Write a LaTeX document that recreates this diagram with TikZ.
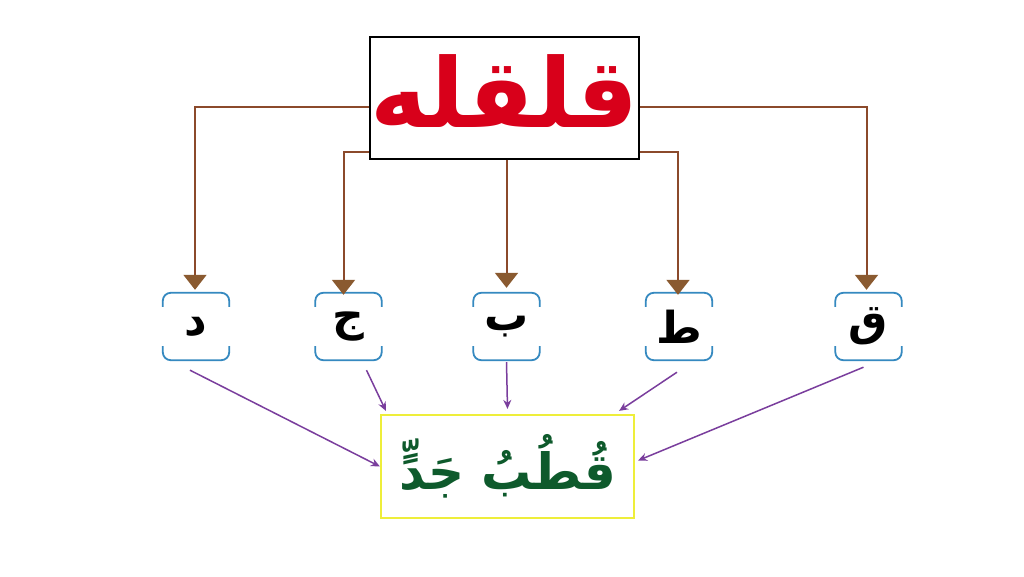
\documentclass[tikz,border=0pt]{standalone}
\usepackage{fontspec}
\newfontfamily\arabicfont[Script=Arabic]{DejaVu Sans}
\TeXXeTstate=1
\usetikzlibrary{arrows.meta}
\definecolor{brn}{HTML}{8B4A2B}
\definecolor{brnfill}{HTML}{8A5A30}
\definecolor{qred}{HTML}{D8001A}
\definecolor{qgreen}{HTML}{0E5A2C}
\definecolor{qblue}{HTML}{3589C0}
\definecolor{qpurple}{HTML}{7A3E9D}
\definecolor{qyellow}{HTML}{EEEE3A}
\tikzset{
  titlebox/.style={draw=black, line width=1.5pt, minimum width=269pt, minimum height=122pt, inner sep=0pt, fill=white},
  letterbox/.style={minimum width=66pt, minimum height=67pt, inner sep=0pt, font=\arabicfont\bfseries\fontsize{44}{48}\selectfont},
  bracket/.style={draw=qblue, line width=1.8pt, rounded corners=8pt},
  resultbox/.style={draw=qyellow, line width=2.2pt, minimum width=253pt, minimum height=103pt, inner sep=0pt, text=qgreen, font=\arabicfont\bfseries\fontsize{50}{56}\selectfont},
  brownline/.style={draw=brn, line width=2pt, -{Triangle[width=23pt,length=15pt,fill=brnfill,color=brnfill]}},
  purplearrow/.style={draw=qpurple, line width=1.5pt, -{Stealth[length=9pt,width=8pt]}}
}
\newcommand{\lowerletter}[1]{\raisebox{-3pt}{\beginR #1\endR}}
\begin{document}
\begin{tikzpicture}[x=1pt,y=1pt]
\useasboundingbox[fill=white] (0,0) rectangle (1024,576);
% title
\node[titlebox, text=qred, font=\arabicfont\bfseries\fontsize{96}{100}\selectfont] (title) at (504.5,478) {\raisebox{13pt}{\beginR قلقله\endR}};
% letters
\node[letterbox] (dal) at (196,249.5) {\lowerletter{د}};
\node[letterbox] (jim) at (348.5,249.5) {\lowerletter{ج}};
\node[letterbox] (ba) at (506.5,249.5) {\lowerletter{ب}};
\node[letterbox] (ta) at (679,249.5) {\lowerletter{ط}};
\node[letterbox] (qaf) at (868.5,249.5) {\lowerletter{ق}};
\foreach \n in {dal,jim,ba,ta,qaf}{
  \draw[bracket] ([yshift=-14pt]\n.north west) |- (\n.north) -| ([yshift=-14pt]\n.north east);
  \draw[bracket] ([yshift=14pt]\n.south west) |- (\n.south) -| ([yshift=14pt]\n.south east);
}
% result
\node[resultbox] (res) at (507.5,109.5) {\beginR قُطُبُ جَدٍّ\endR};
% brown connectors
\coordinate (tl1) at ([yshift=-9pt]title.west);
\coordinate (tl2) at ([yshift=8pt]title.south west);
\coordinate (tr1) at ([yshift=-9pt]title.east);
\coordinate (tr2) at ([yshift=8pt]title.south east);
\draw[brownline] (tl1) -| ([shift={(-1pt,3pt)}]dal.north);
\draw[brownline] (tl2) -| ([shift={(-5pt,-2pt)}]jim.north);
\draw[brownline] (title.south -| ba.north) -- ([yshift=5pt]ba.north);
\draw[brownline] (tr2) -| ([shift={(-1pt,-2pt)}]ta.north);
\draw[brownline] (tr1) -| ([shift={(-2pt,3pt)}]qaf.north);
% purple arrows
\draw[purplearrow] ([shift={(-6pt,-10pt)}]dal.south) -- (res.west);
\draw[purplearrow] ([shift={(18pt,-10pt)}]jim.south) -- ([shift={(6pt,3pt)}]res.north west);
\draw[purplearrow] ([yshift=-2pt]ba.south) -- ([yshift=5pt]res.north);
\draw[purplearrow] ([shift={(-2pt,-12pt)}]ta.south) -- ([shift={(-16pt,3pt)}]res.north east);
\draw[purplearrow] ([shift={(-5pt,-7pt)}]qaf.south) -- ([shift={(3pt,6pt)}]res.east);
\end{tikzpicture}
\end{document}
